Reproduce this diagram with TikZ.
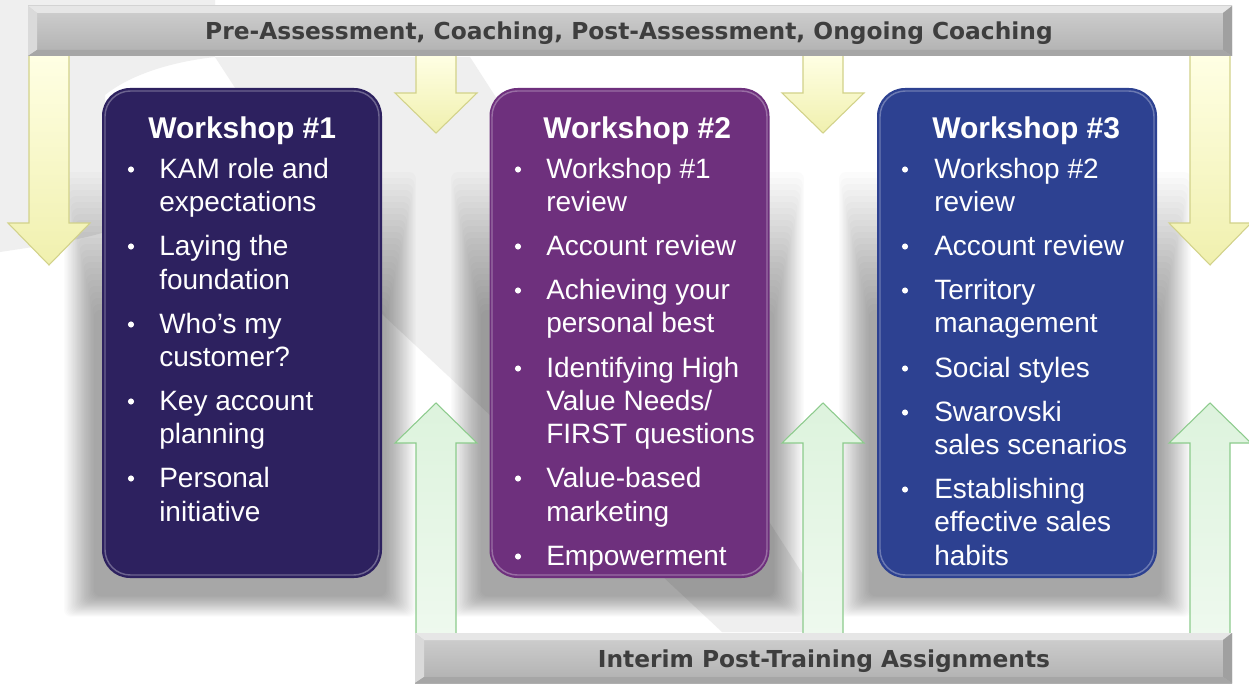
\documentclass[tikz,border=0pt]{standalone}
\usepackage{fontspec}
\setmainfont{Liberation Sans}
\newfontfamily\barfont{DejaVu Sans}
\usetikzlibrary{calc}

\definecolor{wsone}{HTML}{2D215F}
\definecolor{wstwo}{HTML}{6E307D}
\definecolor{wsthree}{HTML}{2D4191}
\definecolor{bartext}{HTML}{3E3E3E}
\definecolor{yeltop}{HTML}{FFFFE4}
\definecolor{yelbot}{HTML}{F0F0AE}
\definecolor{yelline}{HTML}{D2D28A}
\definecolor{grntop}{HTML}{DDF3DD}
\definecolor{grnbot}{HTML}{EEF9EE}
\definecolor{grnline}{HTML}{8CCB8C}
\definecolor{wmark}{HTML}{EFEFEF}
\definecolor{barA}{HTML}{D0D0D0}
\definecolor{barB}{HTML}{B0B0B0}
\definecolor{barTop}{HTML}{E6E6E6}
\definecolor{barL}{HTML}{DADADA}
\definecolor{barR}{HTML}{A0A0A0}
\definecolor{barBot}{HTML}{A6A6A6}

% block arrow pointing down: centre x, top, head start, tip
\newcommand{\blockdown}[4]{%
  \path[downarrow] (#1-20,#2) -- (#1+20,#2) -- (#1+20,#3) -- (#1+41,#3)
    -- (#1,#4) -- (#1-41,#3) -- (#1-20,#3) -- cycle;}
% block arrow pointing up: centre x, bottom, head start, tip
\newcommand{\blockup}[4]{%
  \path[uparrow] (#1-20,#2) -- (#1-20,#3) -- (#1-41,#3) -- (#1,#4)
    -- (#1+41,#3) -- (#1+20,#3) -- (#1+20,#2) -- cycle;}
% bevelled grey bar: x1, y1, x2, y2
\newcommand{\bevelbar}[4]{%
  \fill[top color=barA, bottom color=barB] (#1,#2) rectangle (#3,#4);
  \fill[barTop] (#1,#2) -- (#3,#2) -- (#3-9,#2+7) -- (#1+9,#2+7) -- cycle;
  \fill[barL] (#1,#2) -- (#1+9,#2+7) -- (#1+9,#4-6) -- (#1,#4) -- cycle;
  \fill[barR] (#3,#2) -- (#3-9,#2+7) -- (#3-9,#4-6) -- (#3,#4) -- cycle;
  \fill[barBot] (#1,#4) -- (#1+9,#4-6) -- (#3-9,#4-6) -- (#3,#4) -- cycle;}
% workshop panel with soft shadow: name, x1, x2, colour
\newcommand{\wspanel}[4]{%
  \foreach \k in {0,...,23}{
    \fill[black, opacity=0.0145, rounded corners=5pt]
      (#2-8-1.3*\k, 310-6*\k) rectangle (#3+4+1.3*\k, 596+0.9*\k);}
  \node[panel, fill=#4] (#1) at ({(#2+#3)/2},333) {};
  \draw[rim] (#2+3,91) rectangle (#3-3,575);}
% text lines of a panel: name prefix, x, list of baseline/text
\newcommand{\wslines}[3]{%
  \foreach \ly/\lt [count=\n] in {#3}{\node[wsline] (#1\n) at (#2,\ly) {\lt};}}
\newcommand{\wsbullets}[2]{%
  \foreach \ly in {#2}{\fill[white] (#1,\ly-8.5) circle[radius=2.3pt];}}

\begin{document}
\begin{tikzpicture}[x=0.75pt,y=-0.75pt,
  downarrow/.style={draw=yelline, line width=0.8pt, top color=yeltop, bottom color=yelbot},
  uparrow/.style={draw=grnline, line width=0.8pt, top color=grntop, bottom color=grnbot},
  panel/.style={draw=none, rounded corners=21pt, minimum width=210pt, minimum height=367.5pt, inner sep=0pt},
  rim/.style={draw=white, opacity=0.3, line width=1.1pt, rounded corners=19pt},
  wstitle/.style={anchor=base west, inner sep=0pt, text=white, font=\bfseries\fontsize{22.5}{27}\selectfont},
  wsline/.style={anchor=base west, inner sep=0pt, text=white, font=\fontsize{21}{25}\selectfont},
  bartxt/.style={anchor=base, inner sep=0pt, text=bartext, font=\barfont\bfseries\fontsize{17.5}{21}\selectfont}]

\useasboundingbox (0,0) rectangle (1249,685);
\fill[white] (0,0) rectangle (1249,685);

% faint background swoosh
\fill[wmark] (0,0) -- (0,252) .. controls (40,246) and (80,240) .. (105,232) -- (105,95)
  .. controls (130,75) and (170,62) .. (215,57) -- (215,0) -- cycle;
\fill[wmark] (215,57) -- (383,315) -- (722,632) -- (840,632) -- (470,57) -- cycle;

% panels with shadows
\wspanel{w1}{102}{382}{wsone}
\wspanel{w2}{489}{770}{wstwo}
\wspanel{w3}{877}{1157}{wsthree}

% arrows from the coaching bar
\blockdown{49}{55}{223}{265}
\blockdown{436}{55}{93}{133}
\blockdown{823}{55}{93}{133}
\blockdown{1210}{55}{223}{265}

% arrows from the assignments bar
\blockup{436}{634}{443}{403}
\blockup{823}{634}{443}{403}
\blockup{1210}{634}{443}{403}

% bars
\bevelbar{28}{6}{1232}{56}
\node[bartxt] (topbar) at (629,40) {Pre-Assessment, Coaching, Post-Assessment, Ongoing Coaching};
\bevelbar{415}{633}{1232}{683}
\node[bartxt] (botbar) at (824,667) {Interim Post-Training Assignments};

% panel titles
\node[wstitle] (w1t) at (148,138) {Workshop \#1};
\node[wstitle] (w2t) at (543,138) {Workshop \#2};
\node[wstitle] (w3t) at (932,138) {Workshop \#3};

% panel contents
\wsbullets{131}{178,255,333,410,487}
\wslines{wa}{159}{178/KAM role and, 211/expectations, 255/Laying the, 289/foundation,
  333/Who’s my, 366/customer?, 410/Key account, 443/planning, 487/Personal, 521/initiative}

\wsbullets{518}{178,255,299,377,487,565}
\wslines{wb}{546}{178/Workshop \#1, 211/review, 255/Account review, 299/Achieving your,
  332/personal best, 377/Identifying High, 410/{Value Needs/}, 443/FIRST questions,
  487/Value-based, 521/marketing, 565/Empowerment}

\wsbullets{905}{178,255,299,377,421,498}
\wslines{wc}{934}{178/Workshop \#2, 211/review, 255/Account review, 299/Territory,
  332/management, 377/Social styles, 421/Swarovski, 454/sales scenarios,
  498/Establishing, 531/effective sales, 565/habits}
\end{tikzpicture}
\end{document}
